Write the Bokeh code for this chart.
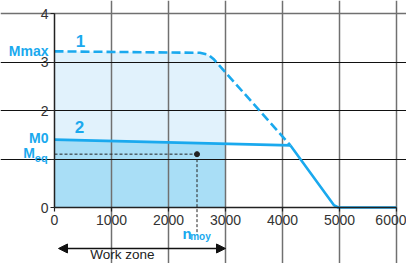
from bokeh.plotting import figure
from bokeh.models import Range1d, FixedTicker, Label, Arrow, NormalHead, Grid
from bokeh.embed import file_html
from bokeh.resources import INLINE
import numpy as np

# ---- data ----
x_ticks = [0, 1000, 2000, 3000, 4000, 5000, 6000]
y_ticks = [0, 1, 2, 3, 4]
y_hidden_labels = [1]

# curve 1 (peak torque, dashed)
rpm_peak = [0, 2550, 2700, 2800, 4140]
torque_peak = [3.22, 3.19, 3.15, 3.05, 1.28]
# curve 2 (continuous torque, solid)
rpm_cont = [0, 4140]
torque_cont = [1.40, 1.28]
# common falling part
rpm_fall = [4140, 4900, 4980, 6000]
torque_fall = [1.28, 0.05, 0.0, 0.0]

work_zone_end = 3000
n_moy = 2500
M_eq = 1.10

BLUE = "#1aa9ee"
LIGHT = "#e1f2fc"
DARK = "#a9def6"
FONT = "Liberation Sans"

# ---- layout: frame covers the whole canvas, axes fixed at 0 ----
W, H = 406, 263
x0_px, x_scale = 54, 0.057      # pixel of x=0, px per rpm
y0_px, y_scale = 207, 48.5      # pixel of y=0, px per unit
xr = Range1d(-x0_px / x_scale, (W - x0_px) / x_scale)
yr = Range1d(-(H - y0_px) / y_scale, y0_px / y_scale)

p = figure(width=W, height=H, output_backend="svg", toolbar_location=None,
           x_range=xr, y_range=yr, min_border=0)
p.background_fill_color = "white"
p.border_fill_color = "white"
p.outline_line_color = None

# fills over the work zone
fx = np.array([x for x in rpm_peak if x < work_zone_end] + [work_zone_end], dtype=float)
f_peak = np.interp(fx, rpm_peak, torque_peak)
f_cont = np.interp(fx, rpm_cont, torque_cont)
p.varea(x=fx, y1=0, y2=f_peak, fill_color=LIGHT, level="image")
p.varea(x=fx, y1=0, y2=f_cont, fill_color=DARK, level="image")

# grid
p.xgrid.ticker = FixedTicker(ticks=x_ticks[1:])
p.xgrid.bounds = (y_ticks[0], y_ticks[-1])
p.xgrid.grid_line_color = "#707070"
p.xgrid.grid_line_width = 1.5
p.ygrid.ticker = FixedTicker(ticks=y_ticks[1:-1])
p.ygrid.bounds = (x_ticks[0], x_ticks[-1])
p.ygrid.grid_line_color = "#111111"
p.ygrid.grid_line_width = 1
top = Grid(dimension=1, ticker=FixedTicker(ticks=[y_ticks[-1]]), bounds=(x_ticks[0], x_ticks[-1]),
           grid_line_color="#707070", grid_line_width=1.5)
p.add_layout(top, "center")
for g in (p.xgrid[0], p.ygrid[0], top):
    g.level = "underlay"

# axes
p.xaxis.fixed_location = 0
p.yaxis.fixed_location = 0
p.xaxis.bounds = (x_ticks[0], x_ticks[-1])
p.yaxis.bounds = (y_ticks[0], y_ticks[-1])
for ax, ticks in ((p.xaxis, x_ticks), (p.yaxis, y_ticks)):
    ax.ticker = FixedTicker(ticks=ticks)
    ax.major_label_text_font = FONT
    ax.major_label_text_font_size = "14px"
    ax.major_label_text_color = "#333333"
    ax.axis_line_color = "#222222"
    ax.axis_line_width = 1.5
    ax.major_tick_line_color = "#222222"
    ax.major_tick_line_width = 1.2
    ax.major_tick_out = 4
    ax.major_tick_in = 0
    ax.minor_tick_line_color = None
p.yaxis.major_label_overrides = {v: "" for v in y_hidden_labels}
p.xaxis.major_label_standoff = 3
p.yaxis.major_label_standoff = 2

# curves
p.line(rpm_peak, torque_peak, line_color=BLUE, line_width=2.6, line_dash="9 4")
p.line(rpm_cont, torque_cont, line_color=BLUE, line_width=2.6)
p.line(rpm_fall, torque_fall, line_color=BLUE, line_width=2.6, line_join="round")

# equivalent point
p.line([0, n_moy], [M_eq, M_eq], line_color="#222222", line_width=1, line_dash="3 2")
p.line([n_moy, n_moy], [M_eq, -0.57], line_color="#222222", line_width=1, line_dash="3 2")
p.scatter([n_moy], [M_eq], size=5, color="#222222")

# work zone arrow
p.add_layout(Arrow(start=NormalHead(size=9, fill_color="#111111", line_color="#111111"),
                   end=NormalHead(size=9, fill_color="#111111", line_color="#111111"),
                   x_start=70, y_start=-0.845, x_end=3000, y_end=-0.845,
                   line_color="#111111", line_width=1.5))

def lab(x, y, t, size, color=BLUE, bold=True, align="left", baseline="middle"):
    p.add_layout(Label(x=x, y=y, text=t, text_font=FONT, text_font_size=size,
                       text_color=color, text_font_style="bold" if bold else "normal",
                       text_align=align, text_baseline=baseline))

lab(-105, 3.22, "Mmax", "14px", align="right")
lab(-105, 1.44, "M0", "14px", align="right")
lab(-345, 1.13, "M", "14px", align="right")
lab(-345, 1.02, "eq", "11px", align="left")
lab(456, 3.44, "1", "17px", align="center")
lab(440, 1.67, "2", "17px", align="center")
lab(2245, -0.54, "n", "15px", align="left", baseline="alphabetic")
lab(2380, -0.60, "moy", "10px", align="left", baseline="alphabetic")
lab(1190, -0.97, "Work zone", "13.5px", color="#222222", bold=False, align="center")

open("out.html", "w").write(file_html(p, INLINE))
